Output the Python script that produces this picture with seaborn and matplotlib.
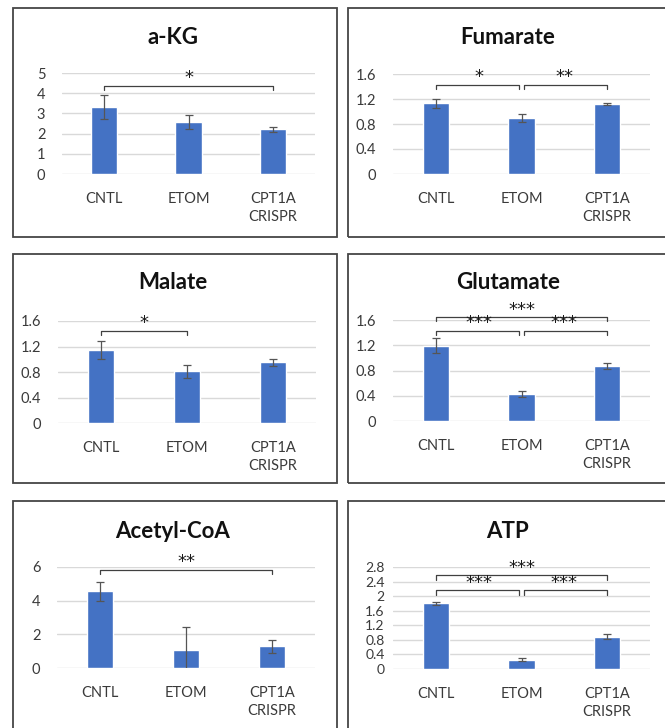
import matplotlib
matplotlib.use("Agg")
import matplotlib.pyplot as plt
from matplotlib.patches import Rectangle
import seaborn as sns
import pandas as pd

# ---------------- data ----------------
categories = ["CNTL", "ETOM", "CPT1A\nCRISPR"]

titles = ["a-KG", "Fumarate", "Malate", "Glutamate", "Acetyl-CoA", "ATP"]

akg_mean = [3.30, 2.58, 2.22]
akg_err = [0.60, 0.33, 0.12]
fum_mean = [1.13, 0.90, 1.125]
fum_err = [0.07, 0.06, 0.015]
mal_mean = [1.15, 0.81, 0.95]
mal_err = [0.14, 0.10, 0.06]
glu_mean = [1.19, 0.43, 0.87]
glu_err = [0.12, 0.045, 0.045]
aca_mean = [4.55, 1.08, 1.28]
aca_err = [0.55, 1.35, 0.40]
atp_mean = [1.80, 0.25, 0.89]
atp_err = [0.05, 0.04, 0.08]

akg_ticks = [0, 1, 2, 3, 4, 5]
fum_ticks = [0, 0.4, 0.8, 1.2, 1.6]
mal_ticks = [0, 0.4, 0.8, 1.2, 1.6]
glu_ticks = [0, 0.4, 0.8, 1.2, 1.6]
aca_ticks = [0, 2, 4, 6]
atp_ticks = [0, 0.4, 0.8, 1.2, 1.6, 2, 2.4, 2.8]

# significance brackets: (from index, to index, bracket level, label)
akg_sig = [(0, 2, 4.38, "*")]
fum_sig = [(0, 1, 1.425, "*"), (1, 2, 1.425, "**")]
mal_sig = [(0, 1, 1.444, "*")]
glu_sig = [(0, 1, 1.426, "***"), (1, 2, 1.426, "***"), (0, 2, 1.647, "***")]
aca_sig = [(0, 2, 5.84, "**")]
atp_sig = [(0, 1, 2.16, "***"), (1, 2, 2.16, "***"), (0, 2, 2.57, "***")]

# ---------------- layout (pixels) ----------------
W, H = 665, 728
sns.set_theme(style="white")
plt.rcParams["font.family"] = ["Lato", "DejaVu Sans"]

fig = plt.figure(figsize=(W / 100, H / 100), dpi=100)


def fx(x):
    return x / W


def fy(y):
    return 1 - y / H


# panel boxes: (x0, y0, x1, y1)
boxes = [(13, 8, 337, 237), (348, 8, 690, 237),
         (13, 254, 337, 483), (348, 254, 690, 483),
         (13, 501, 337, 760), (348, 501, 690, 760)]
for (x0, y0, x1, y1) in boxes:
    fig.patches.append(Rectangle((fx(x0), fy(y1)), fx(x1 - x0), (y1 - y0) / H,
                                 transform=fig.transFigure, fill=False,
                                 edgecolor="#454545", lw=1.3))

# axes rectangles: (left, top, right, bottom) in px
axes_px = [(62, 73, 315, 174), (393, 74, 650, 174),
           (58, 321, 316, 423), (393, 320, 650, 421),
           (57, 567, 315, 668), (393, 567, 650, 669)]
title_pos = [(173, 37), (508, 37), (173, 283), (508, 283), (173, 532), (508, 532)]

means = [akg_mean, fum_mean, mal_mean, glu_mean, aca_mean, atp_mean]
errs = [akg_err, fum_err, mal_err, glu_err, aca_err, atp_err]
ticks = [akg_ticks, fum_ticks, mal_ticks, glu_ticks, aca_ticks, atp_ticks]
sigs = [akg_sig, fum_sig, mal_sig, glu_sig, aca_sig, atp_sig]

BLUE = "#4472C4"
TXT = "#3a3a3a"

for k in range(6):
    l, t, r, b = axes_px[k]
    ax = fig.add_axes([fx(l), fy(b), fx(r - l), (b - t) / H])
    df = pd.DataFrame({"group": categories, "value": means[k]})
    sns.barplot(data=df, x="group", y="value", color=BLUE, width=0.31,
                errorbar=None, ax=ax, saturation=1)
    ax.errorbar(range(len(categories)), means[k], yerr=errs[k], fmt="none",
                ecolor="#555555", elinewidth=0.9, capsize=2.8, capthick=0.9)
    top = ticks[k][-1]
    ax.set_ylim(0, top)
    ax.set_xlim(-0.5, 2.5)
    ax.set_yticks(ticks[k])
    ax.set_yticklabels([f"{v:g}" for v in ticks[k]])
    ax.set_xlabel("")
    ax.set_ylabel("")
    ax.yaxis.grid(True, color="#d9d9d9", lw=1)
    ax.set_axisbelow(True)
    for s in ax.spines.values():
        s.set_visible(False)
    ax.tick_params(axis="x", length=0, pad=13, labelsize=10.5, labelcolor=TXT)
    ax.tick_params(axis="y", length=0, pad=12 if k != 5 else 6,
                   labelsize=10.5 if k != 5 else 10, labelcolor=TXT)
    for lab in ax.get_xticklabels():
        lab.set_linespacing(1.35)
        lab.set_verticalalignment("top")

    # brackets
    ppu = (b - t) / top  # pixels per data unit
    drop = 4.3 / ppu
    split = len(sigs[k]) >= 2
    for (i, j, ylev, lab) in sigs[k]:
        xi = i + (0.035 if split and i == 1 else 0)
        xj = j - (0.035 if split and j == 1 else 0)
        ax.plot([xi, xi, xj, xj], [ylev - drop, ylev, ylev, ylev - drop],
                color="#404040", lw=0.9, clip_on=False)
        ax.text((i + j) / 2, ylev + 7.5 / ppu, lab, ha="center",
                va="center", fontsize=13, color="#1a1a1a", clip_on=False,
                family="DejaVu Sans")

    tx, ty = title_pos[k]
    fig.text(fx(tx), fy(ty), titles[k], ha="center", va="center",
             fontsize=16, fontweight="bold", color="#111111")

fig.savefig("out.png", dpi=100)
